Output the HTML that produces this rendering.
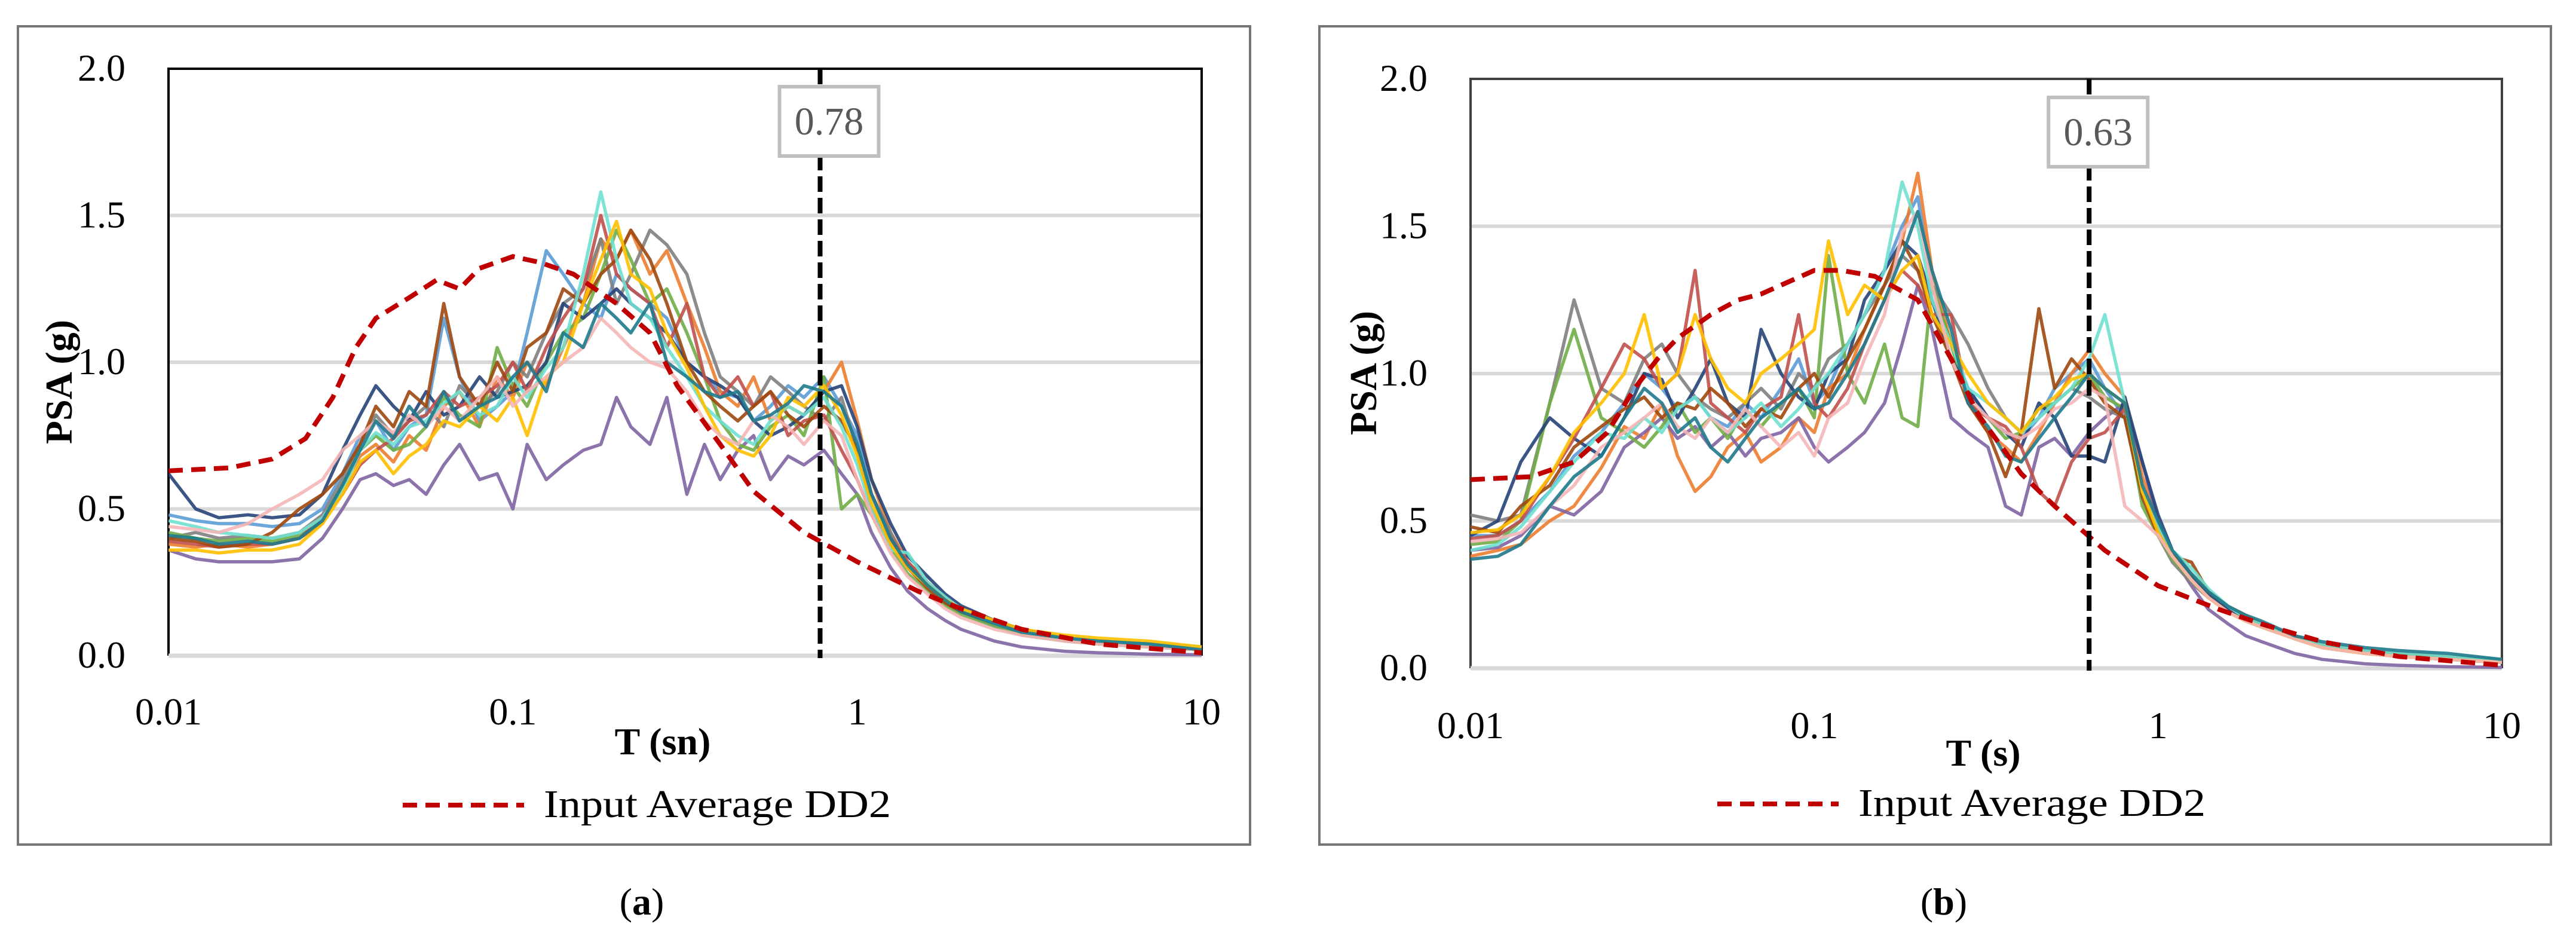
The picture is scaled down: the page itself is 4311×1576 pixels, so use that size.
<!DOCTYPE html>
<html><head><meta charset="utf-8"><style>
html,body{margin:0;padding:0;background:#fff;}
svg{display:block;font-family:"Liberation Serif",serif;}
</style></head><body>
<svg id="fig" width="4311" height="1576" viewBox="0 0 4311 1576">
<rect x="0" y="0" width="4311" height="1576" fill="#fff"/>
</svg>
<script>
const T = [0.01,0.012,0.014,0.017,0.02,0.024,0.028,0.032,0.036,0.04,0.045,0.05,0.056,0.063,0.07,0.08,0.09,0.1,0.11,0.125,0.14,0.16,0.18,0.2,0.22,0.25,0.28,0.32,0.36,0.4,0.45,0.5,0.56,0.63,0.7,0.8,0.9,1.0,1.1,1.25,1.4,1.6,1.8,2,2.5,3,4,5,7,10];
const colors = ["#5B9BD5","#ED7D31","#8064A2","#7F7F7F","#70AD47","#264478","#C0504D","#9E480E","#6FE0D0","#FFC000","#F4B6B6","#1F7A8C"];
const yTicks = [0.0,0.5,1.0,1.5,2.0];
const yTickLabels = ["0.0","0.5","1.0","1.5","2.0"];
const xTicks = [0.01,0.1,1,10];
const xTickLabels = ["0.01","0.1","1","10"];

const seriesA = [
[0.48,0.46,0.45,0.45,0.44,0.45,0.5,0.62,0.75,0.8,0.7,0.78,0.82,1.15,0.95,0.8,0.85,0.9,1.1,1.38,1.3,1.2,1.15,1.3,1.25,1.2,1.15,1.0,0.95,0.9,0.88,0.8,0.85,0.92,0.88,0.95,0.85,0.75,0.55,0.4,0.3,0.24,0.18,0.15,0.1,0.08,0.05,0.04,0.03,0.02],
[0.38,0.37,0.38,0.37,0.38,0.4,0.45,0.58,0.68,0.72,0.66,0.75,0.7,0.85,0.9,0.78,0.95,0.88,1.0,0.92,1.05,1.2,1.42,1.35,1.45,1.3,1.38,1.2,1.05,0.9,0.85,0.95,0.8,0.85,0.82,0.9,1.0,0.8,0.6,0.42,0.32,0.25,0.2,0.16,0.12,0.09,0.06,0.05,0.04,0.02],
[0.36,0.33,0.32,0.32,0.32,0.33,0.4,0.5,0.6,0.62,0.58,0.6,0.55,0.65,0.72,0.6,0.62,0.5,0.72,0.6,0.65,0.7,0.72,0.88,0.78,0.72,0.88,0.55,0.72,0.6,0.7,0.75,0.6,0.68,0.65,0.7,0.62,0.55,0.42,0.3,0.22,0.16,0.12,0.09,0.05,0.03,0.015,0.01,0.005,0.003],
[0.4,0.42,0.4,0.41,0.4,0.42,0.48,0.6,0.72,0.82,0.75,0.8,0.85,0.78,0.92,0.85,0.9,1.0,0.95,1.1,1.2,1.25,1.42,1.2,1.3,1.45,1.4,1.3,1.1,0.95,0.9,0.85,0.95,0.9,0.85,0.8,0.88,0.7,0.55,0.42,0.3,0.24,0.18,0.15,0.11,0.08,0.06,0.05,0.04,0.03],
[0.42,0.4,0.39,0.4,0.39,0.41,0.46,0.58,0.7,0.75,0.7,0.72,0.78,0.88,0.82,0.78,1.05,0.92,0.85,1.0,1.1,1.15,1.3,1.45,1.35,1.2,1.25,1.1,0.95,0.8,0.72,0.7,0.78,0.82,0.75,0.95,0.5,0.55,0.48,0.36,0.28,0.22,0.17,0.14,0.1,0.07,0.05,0.04,0.03,0.02],
[0.62,0.5,0.47,0.48,0.47,0.48,0.55,0.7,0.82,0.92,0.85,0.8,0.9,0.82,0.85,0.95,0.88,0.9,0.92,1.0,1.2,1.15,1.2,1.25,1.2,1.15,1.1,1.0,0.95,0.92,0.88,0.8,0.75,0.78,0.82,0.9,0.92,0.78,0.6,0.45,0.34,0.27,0.21,0.17,0.12,0.09,0.06,0.05,0.04,0.03],
[0.39,0.38,0.37,0.38,0.38,0.4,0.47,0.55,0.65,0.7,0.74,0.8,0.82,0.9,0.85,0.88,0.92,1.0,0.9,1.05,1.15,1.25,1.5,1.3,1.25,1.2,1.05,1.2,0.95,0.88,0.95,0.85,0.9,0.75,0.8,0.82,0.7,0.6,0.48,0.4,0.32,0.25,0.19,0.16,0.11,0.08,0.06,0.05,0.04,0.02],
[0.4,0.39,0.37,0.38,0.42,0.5,0.55,0.62,0.72,0.85,0.78,0.9,0.85,1.2,0.95,0.85,1.0,0.9,1.05,1.1,1.25,1.2,1.3,1.35,1.45,1.35,1.2,1.0,0.9,0.85,0.8,0.85,0.9,0.82,0.78,0.85,0.8,0.7,0.5,0.38,0.3,0.23,0.18,0.15,0.11,0.08,0.06,0.05,0.04,0.03],
[0.46,0.44,0.42,0.41,0.4,0.42,0.47,0.56,0.7,0.76,0.72,0.78,0.8,0.86,0.9,0.82,0.85,0.95,0.88,0.98,1.05,1.3,1.58,1.35,1.2,1.15,1.05,0.95,0.85,0.8,0.75,0.72,0.8,0.85,0.82,0.88,0.78,0.65,0.5,0.36,0.35,0.25,0.2,0.16,0.11,0.08,0.06,0.05,0.04,0.03],
[0.36,0.36,0.35,0.36,0.36,0.38,0.45,0.55,0.66,0.7,0.62,0.68,0.72,0.8,0.78,0.85,0.8,0.88,0.75,0.95,1.0,1.2,1.35,1.48,1.3,1.25,1.1,0.98,0.85,0.75,0.7,0.68,0.75,0.88,0.85,0.92,0.82,0.68,0.52,0.38,0.3,0.24,0.19,0.16,0.12,0.09,0.07,0.06,0.05,0.03],
[0.44,0.43,0.42,0.45,0.5,0.55,0.6,0.7,0.75,0.8,0.76,0.82,0.78,0.85,0.8,0.88,0.95,0.85,0.9,0.95,1.0,1.05,1.15,1.1,1.05,1.0,0.98,0.9,0.8,0.75,0.72,0.8,0.82,0.78,0.72,0.8,0.75,0.6,0.48,0.35,0.27,0.21,0.16,0.13,0.09,0.07,0.05,0.04,0.03,0.02],
[0.41,0.4,0.38,0.39,0.38,0.4,0.46,0.58,0.7,0.8,0.74,0.85,0.78,0.9,0.8,0.85,0.88,0.95,1.0,0.9,1.1,1.05,1.2,1.15,1.1,1.2,1.0,0.95,0.9,0.88,0.9,0.8,0.82,0.86,0.92,0.9,0.85,0.72,0.55,0.4,0.31,0.24,0.19,0.15,0.11,0.08,0.06,0.05,0.04,0.02]
];
const seriesB = [
[0.45,0.45,0.5,0.6,0.72,0.8,0.9,1.0,0.95,0.88,0.92,0.85,0.82,0.9,0.85,0.95,1.05,0.9,0.95,1.1,1.2,1.35,1.5,1.6,1.3,1.1,0.95,0.85,0.8,0.78,0.85,0.95,1.0,1.05,0.95,0.85,0.6,0.45,0.38,0.3,0.25,0.2,0.17,0.15,0.1,0.08,0.06,0.05,0.03,0.02],
[0.38,0.4,0.42,0.5,0.55,0.68,0.82,0.78,0.9,0.72,0.6,0.65,0.75,0.8,0.7,0.75,0.85,0.8,0.95,1.0,1.15,1.3,1.45,1.68,1.35,1.1,0.9,0.8,0.75,0.7,0.8,0.9,1.0,1.08,1.0,0.92,0.65,0.5,0.4,0.32,0.26,0.21,0.18,0.15,0.11,0.08,0.06,0.05,0.04,0.03],
[0.4,0.41,0.45,0.55,0.52,0.6,0.75,0.8,0.85,0.78,0.82,0.75,0.8,0.72,0.78,0.8,0.85,0.75,0.7,0.75,0.8,0.9,1.1,1.3,1.15,0.85,0.8,0.75,0.55,0.52,0.75,0.78,0.72,0.8,0.85,0.9,0.7,0.5,0.38,0.28,0.2,0.15,0.11,0.09,0.05,0.03,0.015,0.01,0.005,0.003],
[0.52,0.5,0.52,0.9,1.25,0.95,0.9,1.05,1.1,1.0,0.92,0.88,0.85,0.9,0.95,0.88,1.0,0.95,1.05,1.1,1.2,1.3,1.4,1.35,1.3,1.2,1.1,0.95,0.85,0.8,0.85,0.9,0.95,0.92,0.88,0.85,0.6,0.45,0.36,0.29,0.24,0.19,0.16,0.14,0.1,0.07,0.05,0.04,0.03,0.02],
[0.42,0.43,0.5,0.9,1.15,0.85,0.8,0.75,0.82,0.9,0.8,0.85,0.78,0.88,0.82,0.9,0.95,0.85,1.4,1.0,0.9,1.1,0.85,0.82,1.3,1.1,0.9,0.85,0.78,0.8,0.88,0.9,0.95,1.0,0.92,0.88,0.55,0.45,0.37,0.3,0.24,0.19,0.16,0.14,0.1,0.07,0.05,0.04,0.03,0.02],
[0.45,0.5,0.7,0.85,0.78,0.72,0.85,1.0,0.98,0.85,0.95,1.05,0.9,0.85,1.15,1.0,0.92,0.88,1.0,1.05,1.25,1.35,1.45,1.4,1.25,1.05,0.95,0.85,0.8,0.75,0.9,0.85,0.72,0.72,0.7,0.92,0.7,0.52,0.4,0.31,0.25,0.2,0.17,0.15,0.1,0.08,0.06,0.05,0.04,0.02],
[0.44,0.45,0.5,0.65,0.78,0.95,1.1,1.05,0.95,1.0,1.35,0.9,0.85,0.8,0.88,0.92,1.2,0.9,0.85,0.95,1.1,1.25,1.35,1.3,1.2,1.2,0.9,0.85,0.82,0.75,0.6,0.55,0.7,0.78,0.8,0.88,0.6,0.48,0.38,0.3,0.24,0.19,0.16,0.14,0.1,0.07,0.05,0.04,0.03,0.02],
[0.48,0.46,0.55,0.62,0.75,0.82,0.88,0.92,0.85,0.9,0.88,0.95,0.9,0.82,0.88,0.85,0.95,1.0,0.92,1.05,1.15,1.3,1.45,1.35,1.2,1.05,0.9,0.8,0.65,0.8,1.22,0.95,1.05,0.98,0.9,0.85,0.58,0.45,0.38,0.36,0.26,0.21,0.17,0.15,0.1,0.08,0.06,0.05,0.04,0.03],
[0.4,0.42,0.48,0.6,0.7,0.8,0.78,0.85,0.8,0.88,0.92,0.85,0.8,0.85,0.9,0.82,0.88,0.95,1.0,1.1,1.2,1.35,1.65,1.5,1.25,1.1,0.95,0.9,0.85,0.8,0.85,0.9,0.95,1.05,1.2,0.9,0.6,0.48,0.4,0.34,0.27,0.21,0.17,0.15,0.1,0.08,0.06,0.05,0.04,0.03],
[0.46,0.47,0.52,0.65,0.8,0.9,1.0,1.2,0.95,1.0,1.2,1.05,0.95,0.9,1.0,1.05,1.1,1.15,1.45,1.2,1.3,1.25,1.35,1.4,1.2,1.1,1.0,0.9,0.85,0.8,0.88,0.92,0.98,1.0,0.95,0.9,0.6,0.46,0.38,0.3,0.24,0.19,0.16,0.14,0.1,0.07,0.05,0.04,0.03,0.02],
[0.43,0.44,0.46,0.55,0.62,0.75,0.8,0.85,0.9,0.82,0.78,0.85,0.8,0.88,0.82,0.75,0.8,0.72,0.85,0.9,1.05,1.2,1.48,1.55,1.3,1.05,0.92,0.85,0.8,0.78,0.82,0.88,0.9,0.95,0.92,0.55,0.5,0.45,0.38,0.3,0.24,0.19,0.16,0.14,0.1,0.07,0.05,0.04,0.03,0.02],
[0.37,0.38,0.42,0.55,0.65,0.72,0.85,0.95,0.9,0.8,0.85,0.75,0.7,0.78,0.85,0.9,0.95,0.88,0.9,1.0,1.1,1.25,1.4,1.55,1.35,1.15,0.9,0.82,0.72,0.7,0.78,0.85,0.92,1.0,0.95,0.9,0.62,0.5,0.4,0.32,0.26,0.21,0.18,0.16,0.11,0.09,0.07,0.06,0.05,0.03]
];
const avgT = [0.01,0.015,0.02,0.025,0.03,0.035,0.04,0.05,0.06,0.07,0.08,0.1,0.12,0.15,0.2,0.25,0.3,0.4,0.5,0.7,1,1.5,2,3,5,10];
const avgA = [0.63,0.64,0.67,0.74,0.88,1.05,1.15,1.22,1.28,1.25,1.32,1.36,1.34,1.3,1.2,1.1,0.92,0.72,0.56,0.42,0.32,0.22,0.16,0.09,0.04,0.01];
const avgB = [0.64,0.65,0.7,0.8,0.95,1.05,1.12,1.2,1.25,1.27,1.3,1.35,1.35,1.33,1.25,1.05,0.86,0.66,0.55,0.4,0.28,0.2,0.15,0.09,0.04,0.01];
const vlineA = 0.78, vlineB = 0.63;

const NS = "http://www.w3.org/2000/svg";
const svg = document.getElementById('fig');
function mk(tag, attrs, parent, text){
  const e = document.createElementNS(NS, tag);
  for (const k in attrs) e.setAttribute(k, attrs[k]);
  if (text !== undefined) e.textContent = text;
  (parent || svg).appendChild(e);
  return e;
}

function panel(id, cfg){
  const g = mk('g', {});
  
  
  const {bx0,bx1,px0,px1,py0,py1} = cfg;
  const frame = mk('rect', {x:bx0, y:44, width:bx1-bx0, height:1369, fill:'#fff', stroke:'#767676', 'stroke-width':4}, g);
  
  
  const xs = v => px0 + (Math.log10(v) + 2) / 3 * (px1 - px0);
  const ys = v => py1 - v / 2 * (py1 - py0);
  yTicks.forEach((v, i) => {
    if (v > 0 && v < 2) {
      const gl = mk('line', {x1:px0, x2:px1, y1:ys(v), y2:ys(v), stroke:'#d9d9d9', 'stroke-width':6}, g);
      
      
    }
    const tl = mk('text', {x:px0 - 72, y:ys(v) + 20, 'text-anchor':'end', 'font-size':64, fill:'#000'}, g, yTickLabels[i]);
    
    
  });
  xTicks.forEach((v, i) => {
    const tl = mk('text', {x:xs(v), y:cfg.xlabY, 'text-anchor':'middle', 'font-size':64, fill:'#000'}, g, xTickLabels[i]);
    
    
  });
  const pf = mk('path', {d:'M' + px0 + ',' + py1 + 'V' + py0 + 'H' + px1 + 'V' + py1, fill:'none', stroke:cfg.frameCol, 'stroke-width':4}, g);
  
  
  const zl = mk('line', {x1:px0, x2:px1, y1:ys(0), y2:ys(0), stroke:'#d9d9d9', 'stroke-width':7}, g);
  
  
  const cid = 'clip-' + id;
  const cp = mk('clipPath', {id:cid}, g);
  mk('rect', {x:px0, y:py0, width:px1-px0 + 4, height:py1-py0 + 4}, cp);
  const lines = mk('g', {'clip-path':'url(#' + cid + ')'}, g);
  
  
  cfg.series.forEach((s, k) => {
    const d = s.map((v, i) => (i ? 'L' : 'M') + xs(T[i]).toFixed(1) + ',' + ys(v).toFixed(1)).join('');
    const p = mk('path', {d, fill:'none', stroke:colors[k % colors.length], 'stroke-width':5.5, 'stroke-linejoin':'round', opacity:0.9}, lines);
    
    
  });
  const ad = cfg.avg.map((v, i) => (i ? 'L' : 'M') + xs(avgT[i]).toFixed(1) + ',' + ys(v).toFixed(1)).join('');
  const ap = mk('path', {d:ad, fill:'none', stroke:'#C00000', 'stroke-width':8, 'stroke-dasharray':'24 14'}, lines);
  
  
  const vx = xs(cfg.vline);
  const vl = mk('line', {x1:vx, x2:vx, y1:py0, y2:py1 + 4, stroke:'#000', 'stroke-width':8, 'stroke-dasharray':'26 10'}, g);
  
  
  const lb = mk('rect', {x:vx - 68, y:cfg.boxY, width:166, height:116, fill:'#fff', stroke:'#bfbfbf', 'stroke-width':6}, g);
  
  
  const lt = mk('text', {x:vx + 15, y:cfg.boxY + 80, 'text-anchor':'middle', 'font-size':66, fill:'#595959'}, g, cfg.vline.toFixed(2));
  
  
  const xt = mk('text', {x:cfg.xtX, y:cfg.xtY, 'text-anchor':'middle', 'font-size':64, 'font-weight':'bold'}, g, cfg.xtitle);
  
  
  const yt = mk('text', {x:0, y:0, 'text-anchor':'middle', 'font-size':64, 'font-weight':'bold', transform:'translate(' + (cfg.ytX + 22) + ',' + cfg.ytY + ') rotate(-90)'}, g, 'PSA (g)');
  
  
  const lg = mk('g', {}, g);
  
  
  mk('line', {x1:cfg.legX0, x2:cfg.legX0 + 203, y1:cfg.legY, y2:cfg.legY, stroke:'#C00000', 'stroke-width':8, 'stroke-dasharray':'24 14'}, lg);
  mk('text', {x:cfg.legX0 + 236, y:cfg.legY + 20, 'font-size':66, textLength:581, lengthAdjust:'spacingAndGlyphs'}, lg, 'Input Average DD2');
  const cap = mk('text', {x:cfg.capX, y:1530, 'text-anchor':'middle', 'font-size':64}, g);
  
  
  mk('tspan', {}, cap, '(');
  mk('tspan', {'font-weight':'bold'}, cap, id);
  mk('tspan', {}, cap, ')');
}

panel('a', {bx0:30, bx1:2092, px0:282, px1:2011, py0:115, py1:1097, frameCol:'#000', series:seriesA, avg:avgA, vline:vlineA, boxY:145, xlabY:1212, xtitle:'T (sn)', xtX:1109, xtY:1262, ytX:98, ytY:639, legX0:674, legY:1347, capX:1074});
panel('b', {bx0:2208, bx1:4269, px0:2461, px1:4187, py0:132, py1:1118, frameCol:'#404040', series:seriesB, avg:avgB, vline:vlineB, boxY:163, xlabY:1235, xtitle:'T (s)', xtX:3319, xtY:1281, ytX:2281, ytY:624, legX0:2874, legY:1345, capX:3253});
</script>
</body></html>
